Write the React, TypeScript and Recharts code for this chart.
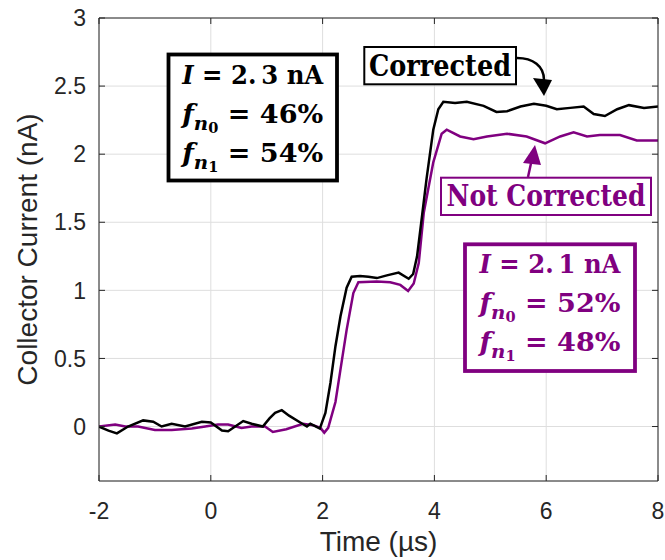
import React from 'react';
import { LineChart, Line, XAxis, YAxis, CartesianGrid } from 'recharts';

// tick values
const xTicks = [-2, 0, 2, 4, 6, 8];
const yTicks = [0, 0.5, 1, 1.5, 2, 2.5, 3];

// Corrected (black) trace
const correctedTime = [
  -2, -1.83, -1.68, -1.48, -1.21, -1.03, -0.88, -0.7, -0.46, -0.16, 0, 0.2, 0.31, 0.58, 0.73, 0.93,
  1.05, 1.15, 1.27, 1.4, 1.6, 1.72, 1.78, 1.83, 1.95, 2.05, 2.14, 2.23, 2.32, 2.43, 2.52, 2.67, 2.82,
  2.97, 3.15, 3.36, 3.54, 3.62, 3.69, 3.78, 3.86, 3.98, 4.07, 4.16, 4.37, 4.58, 4.88, 5.11, 5.3, 5.54,
  5.78, 6.0, 6.19, 6.43, 6.67, 6.85, 7.05, 7.27, 7.48, 7.75, 8,
];
const correctedCurrent = [
  0, -0.03, -0.05, 0, 0.045, 0.035, 0, 0.02, 0, 0.035, 0.03, -0.03, -0.035, 0.04, 0.02, 0,
  0.06, 0.1, 0.12, 0.08, 0.03, 0, 0.02, 0.01, -0.015, 0.1, 0.32, 0.59, 0.81, 1.02, 1.1, 1.105, 1.1,
  1.09, 1.11, 1.13, 1.085, 1.12, 1.25, 1.55, 1.82, 2.18, 2.33, 2.385, 2.375, 2.385, 2.355, 2.31, 2.315, 2.35,
  2.37, 2.355, 2.33, 2.34, 2.35, 2.295, 2.28, 2.33, 2.36, 2.34, 2.35,
];

// Not corrected (purple) trace
const notCorrectedTime = [
  -2, -1.71, -1.53, -1.3, -1.0, -0.7, -0.34, -0.1, 0.13, 0.31, 0.55, 0.73, 0.97, 1.11, 1.35, 1.65,
  1.83, 1.96, 2.03, 2.1, 2.23, 2.32, 2.43, 2.55, 2.64, 2.97, 3.21, 3.39, 3.53, 3.63, 3.72, 3.81, 3.98,
  4.13, 4.22, 4.46, 4.7, 4.94, 5.3, 5.65, 5.98, 6.25, 6.49, 6.73, 6.96, 7.32, 7.62, 8,
];
const notCorrectedCurrent = [
  0, 0.015, 0, 0, -0.025, -0.025, -0.015, 0, 0.015, 0.015, -0.01, 0, 0, -0.04, -0.02, 0.02,
  0.01, -0.01, -0.045, -0.01, 0.18, 0.42, 0.71, 0.98, 1.06, 1.065, 1.06, 1.04, 0.995, 1.05, 1.2, 1.57, 1.94,
  2.15, 2.18, 2.13, 2.11, 2.13, 2.15, 2.13, 2.08, 2.13, 2.16, 2.13, 2.14, 2.14, 2.1, 2.1,
];

const corrected = correctedTime.map((t, i) => ({ t, v: correctedCurrent[i] }));
const notCorrected = notCorrectedTime.map((t, i) => ({ t, v: notCorrectedCurrent[i] }));

const AXIS = '#262626';
const PURPLE = '#800080';
const GRID = '#dedede';
const SANS = "'Liberation Sans', Arial, sans-serif";
const SERIF = "'DejaVu Serif Condensed', 'DejaVu Serif', serif";

function MathBox({
  x, y, w, h, color, current, f0, f1,
}: {
  x: number; y: number; w: number; h: number; color: string; current: string; f0: string; f1: string;
}) {
  const cx = x + w / 2;
  const common = {
    x: cx,
    textAnchor: 'middle' as const,
    fill: color,
    fontFamily: SERIF,
    fontWeight: 700,
    fontSize: 26,
    fontStretch: 'condensed',
    textLength: 141,
    lengthAdjust: 'spacingAndGlyphs' as const,
  };
  const sub = (n: string, rest: string) => (
    <>
      <tspan fontStyle="italic">f</tspan>
      <tspan fontStyle="italic" fontSize={19} dy={7}>n</tspan>
      <tspan fontSize={14} dy={3}>{n}</tspan>
      <tspan dy={-10}>{rest}</tspan>
    </>
  );
  return (
    <g>
      <rect x={x} y={y} width={w} height={h} fill="#fff" stroke={color} strokeWidth={3.8} />
      <text {...common} y={y + 29}>
        <tspan fontStyle="italic">I</tspan>
        <tspan>{` = ${current}`}</tspan>
      </text>
      <text {...common} y={y + 68}>{sub('0', ` = ${f0}`)}</text>
      <text {...common} y={y + 107}>{sub('1', ` = ${f1}`)}</text>
    </g>
  );
}

function Annotations() {
  return (
    <svg
      width={665}
      height={560}
      style={{ position: 'absolute', left: 0, top: 0, pointerEvents: 'none' }}
    >
      <MathBox x={168.5} y={54.5} w={168.5} h={126} color="#000" current="2.&#8201;3 nA" f0="46%" f1="54%" />
      <MathBox x={465} y={244.3} w={170} h={126.7} color={PURPLE} current="2.&#8201;1 nA" f0="52%" f1="48%" />

      {/* Corrected label + arrow */}
      <rect x={364.3} y={47} width={151.7} height={37.3} fill="#fff" stroke="#000" strokeWidth={2} />
      <text
        x={440}
        y={76}
        textAnchor="middle"
        fontFamily={SERIF}
        fontWeight={700}
        fontSize={29}
        fontStretch="condensed"
        textLength={142}
        lengthAdjust="spacingAndGlyphs"
        fill="#000"
      >
        Corrected
      </text>
      <path d="M517,58 C533,58 544,66 544,80" fill="none" stroke="#000" strokeWidth={2.5} />
      <polygon points="533,78 552,80 544,96" fill="#000" />

      {/* Not Corrected label + arrow */}
      <rect x={441} y={177.7} width={210} height={37.3} fill="#fff" stroke={PURPLE} strokeWidth={2} />
      <text
        x={546}
        y={206}
        textAnchor="middle"
        fontFamily={SERIF}
        fontWeight={700}
        fontSize={29}
        fontStretch="condensed"
        textLength={199}
        lengthAdjust="spacingAndGlyphs"
        fill={PURPLE}
      >
        Not Corrected
      </text>
      <line x1={528} y1={177} x2={531.5} y2={161} stroke={PURPLE} strokeWidth={2.5} />
      <polygon points="523,163 541,165 535,145" fill={PURPLE} />
    </svg>
  );
}

export default function App() {
  const tickStyle = { fill: AXIS, fontSize: 23, fontFamily: SANS };
  return (
    <div style={{ position: 'absolute', left: 0, top: 0, width: 665, height: 560, background: '#fff' }}>
      <LineChart width={665} height={560} margin={{ top: 17, right: 6, left: 0, bottom: 9 }}>
        <CartesianGrid xAxisId="b" yAxisId="l" stroke={GRID} strokeWidth={1} />
        <XAxis
          xAxisId="b"
          dataKey="t"
          type="number"
          domain={[-2, 8]}
          ticks={xTicks}
          allowDataOverflow
          height={70}
          stroke={AXIS}
          tickSize={-6}
          tickMargin={28}
          tick={tickStyle}
          label={{ value: 'Time (µs)', position: 'insideBottom', offset: 0, fill: AXIS, fontSize: 28, fontFamily: SANS }}
        />
        <XAxis
          xAxisId="t"
          orientation="top"
          dataKey="t"
          type="number"
          domain={[-2, 8]}
          ticks={xTicks}
          allowDataOverflow
          height={1}
          stroke={AXIS}
          tickSize={-6}
          tickFormatter={() => ''}
        />
        <YAxis
          yAxisId="l"
          type="number"
          domain={[-0.4, 3]}
          ticks={yTicks}
          allowDataOverflow
          width={99}
          stroke={AXIS}
          tickSize={-6}
          tickMargin={19}
          tick={tickStyle}
          label={{
            value: 'Collector Current (nA)',
            angle: -90,
            position: 'insideLeft',
            offset: 27,
            fill: AXIS,
            fontSize: 28,
            fontFamily: SANS,
            style: { textAnchor: 'middle' },
          }}
        />
        <YAxis
          yAxisId="r"
          orientation="right"
          type="number"
          domain={[-0.4, 3]}
          ticks={yTicks}
          allowDataOverflow
          width={1}
          stroke={AXIS}
          tickSize={-6}
          tickFormatter={() => ''}
        />
        <Line
          data={notCorrected}
          dataKey="v"
          xAxisId="b"
          yAxisId="l"
          type="linear"
          stroke={PURPLE}
          strokeWidth={2.5}
          dot={false}
          isAnimationActive={false}
        />
        <Line
          data={corrected}
          dataKey="v"
          xAxisId="b"
          yAxisId="l"
          type="linear"
          stroke="#000"
          strokeWidth={2.5}
          dot={false}
          isAnimationActive={false}
        />
      </LineChart>
      <Annotations />
    </div>
  );
}
